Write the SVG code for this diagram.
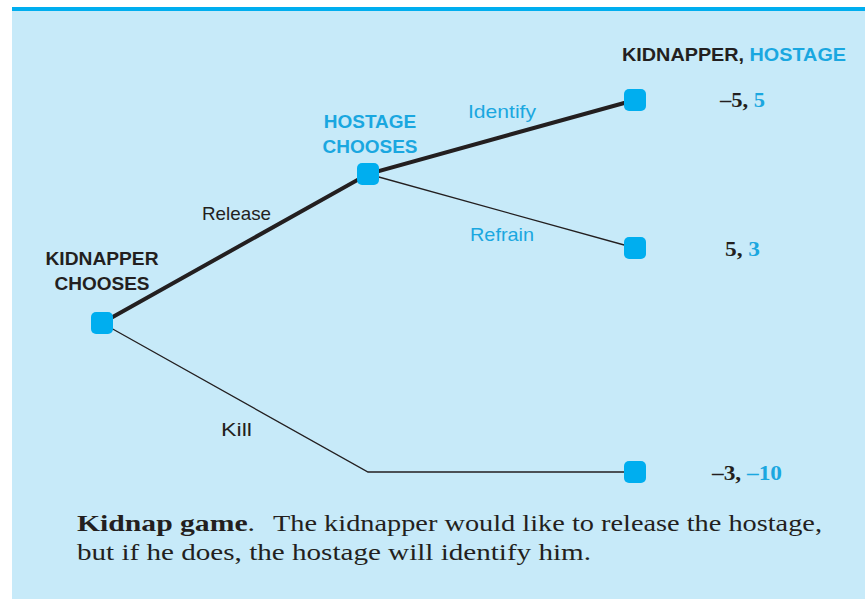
<svg xmlns="http://www.w3.org/2000/svg" width="865" height="599" viewBox="0 0 865 599">
<style>
.node{fill:#00aeef}
.thick{stroke:#231f20;stroke-width:4;fill:none;stroke-linecap:round}
.thin{stroke:#231f20;stroke-width:1.3;fill:none}
.lbl{font-family:"Liberation Sans","Open Sans",sans-serif;font-size:19px}
.hd{font-family:"Liberation Sans","Open Sans",sans-serif;font-size:19px;font-weight:bold}
.pay{font-family:"Liberation Serif",serif;font-size:20px;font-weight:bold}
.cap{font-family:"Liberation Serif",serif;font-size:24px;fill:#231f20}
.dk{fill:#231f20}
.bl{fill:#1aa7e0}
</style>
<rect x="0" y="0" width="865" height="599" fill="#ffffff"/>
<rect x="12" y="11" width="853" height="588" fill="#c7eaf9"/>
<rect x="12" y="7" width="853" height="4" fill="#00aeef"/>
<g id="connectors">
<polyline class="thick" points="102,323 368,174 635,100"/>
<line class="thin" x1="368" y1="174" x2="635" y2="248"/>
<polyline class="thin" points="102,323 368,472 635,472"/>
</g>
<g id="kidnapper">
<rect class="node" x="91" y="312" width="22" height="22" rx="5"/>
<text class="hd dk" text-anchor="middle" x="102" y="265" textLength="113" lengthAdjust="spacingAndGlyphs">KIDNAPPER</text>
<text class="hd dk" text-anchor="middle" x="102" y="290">CHOOSES</text>
</g>
<g id="hostage">
<rect class="node" x="357" y="163" width="22" height="22" rx="5"/>
<text class="hd bl" text-anchor="middle" x="370" y="128">HOSTAGE</text>
<text class="hd bl" text-anchor="middle" x="370" y="153">CHOOSES</text>
</g>
<g id="identify">
<rect class="node" x="624" y="89" width="22" height="22" rx="5"/>
<text class="pay" x="720" y="107" textLength="45" lengthAdjust="spacingAndGlyphs"><tspan class="dk">–5, </tspan><tspan class="bl">5</tspan></text>
</g>
<g id="refrain">
<rect class="node" x="624" y="237" width="22" height="22" rx="5"/>
<text class="pay" x="725" y="256" textLength="35" lengthAdjust="spacingAndGlyphs"><tspan class="dk">5, </tspan><tspan class="bl">3</tspan></text>
</g>
<g id="kill">
<rect class="node" x="624" y="461" width="22" height="22" rx="5"/>
<text class="pay" x="712" y="480" textLength="70" lengthAdjust="spacingAndGlyphs"><tspan class="dk">–3, </tspan><tspan class="bl">–10</tspan></text>
</g>
<g id="labels">
<text class="hd" x="622" y="61" textLength="224" lengthAdjust="spacingAndGlyphs"><tspan class="dk">KIDNAPPER, </tspan><tspan class="bl">HOSTAGE</tspan></text>
<text class="lbl bl" x="468" y="118" textLength="68" lengthAdjust="spacingAndGlyphs">Identify</text>
<text class="lbl bl" x="470" y="241" textLength="64" lengthAdjust="spacingAndGlyphs">Refrain</text>
<text class="lbl dk" x="202" y="220" textLength="69" lengthAdjust="spacingAndGlyphs">Release</text>
<text class="lbl dk" x="221" y="436" textLength="31" lengthAdjust="spacingAndGlyphs">Kill</text>
</g>
<g id="caption">
<text class="cap" x="77" y="531" textLength="178" lengthAdjust="spacingAndGlyphs"><tspan font-weight="bold">Kidnap game</tspan>.</text>
<text class="cap" x="273" y="531" textLength="549" lengthAdjust="spacingAndGlyphs">The kidnapper would like to release the hostage,</text>
<text class="cap" x="77" y="560" textLength="514" lengthAdjust="spacingAndGlyphs">but if he does, the hostage will identify him.</text>
</g>
</svg>
